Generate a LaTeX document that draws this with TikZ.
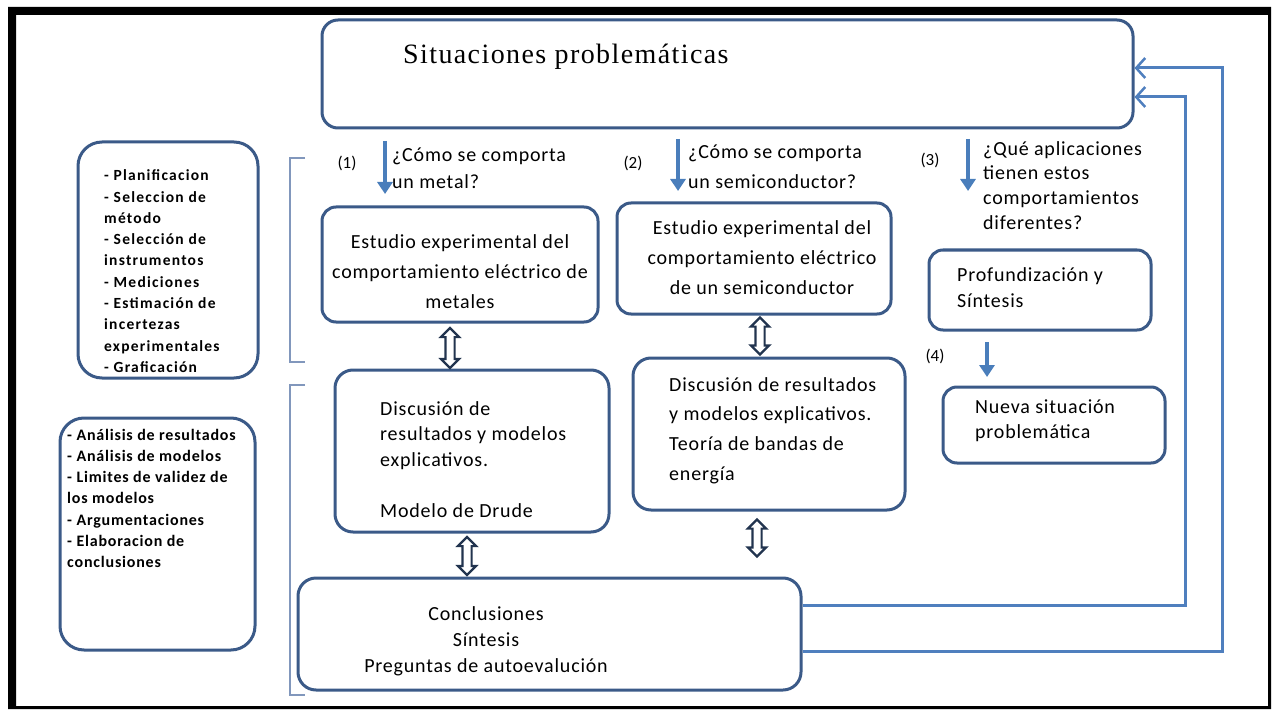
\documentclass[tikz,border=0pt]{standalone}
\usepackage{fontspec}
\setmainfont{Carlito}
\newfontfamily\qf[LetterSpace=4]{Carlito}
\newfontfamily\lfa[LetterSpace=8]{Carlito}
\newfontfamily\lfb[LetterSpace=5]{Carlito}
\newfontfamily\tf[LetterSpace=5]{Liberation Serif}
\usetikzlibrary{fit,arrows.meta,shapes.arrows}
\definecolor{boxc}{HTML}{3B5A88}
\definecolor{arrc}{HTML}{4A7EBB}
\definecolor{fbc}{HTML}{4F7FBE}
\definecolor{dblc}{HTML}{22344F}
\definecolor{brc}{HTML}{8197BC}
\newcommand{\fl}{\rule{0pt}{1em}}
\tikzset{
  box/.style={draw=boxc, line width=3pt, rounded corners=14pt, fill=white, inner sep=0pt},
  lbox/.style={box, rounded corners=24pt},
  arr/.style={draw=arrc, line width=4pt, -{Triangle[width=15pt,length=12pt]}},
  fb/.style={draw=fbc, line width=3pt, -{Straight Barb[length=9pt,width=20pt,line width=2.5pt]}},
  dbl/.style={draw=dblc, line width=2.2pt, fill=white, double arrow, shape border rotate=90,
    minimum height=38pt, inner sep=3.5pt, double arrow head extend=4.5pt},
  brk/.style={draw=brc, line width=1.5pt},
  txt/.style={inner sep=0pt, anchor=north west, align=left, font=\qf\fontsize{20}{30}\selectfont},
  ctxt/.style={txt, anchor=north, align=center},
  num/.style={inner sep=0pt, font=\fontsize{17}{20}\selectfont},
  small/.style={inner sep=0pt, anchor=north west, align=left, font=\lfa\bfseries\fontsize{15.5}{21.3}\selectfont},
}
\begin{document}
\begin{tikzpicture}[x=1pt,y=-1pt]
\useasboundingbox (0,0) rectangle (1273,711);
\fill[black, even odd rule] (8,7) rectangle (1271,709) (16,15) rectangle (1268,706);

% boxes
\node[box, rounded corners=16pt, fit={(322,20) (1133,128)}] (top) {};
\node[inner sep=0pt, anchor=west, font=\tf\fontsize{28}{30}\selectfont] (title) at (403,57) {Situaciones problemáticas};
\node[lbox, fit={(78,142) (258,378)}] (L1) {};
\node[lbox, fit={(60,418) (255,650)}] (L2) {};
\node[box, fit={(322,207) (598,322)}] (A) {};
\node[box, fit={(617,203) (891,314)}] (B) {};
\node[box, fit={(929,250) (1151,330)}] (C) {};
\node[box, fit={(943,387) (1165,463)}] (D) {};
\node[box, rounded corners=18pt, fit={(335,370) (609,532)}] (E) {};
\node[box, rounded corners=18pt, fit={(633,358) (905,510)}] (F) {};
\node[box, rounded corners=18pt, fit={(298,578) (801,690)}] (G) {};

% texts in boxes
\node[ctxt] (tA) at (460,228) {\fl Estudio experimental del\\comportamiento eléctrico de\\metales};
\node[ctxt] (tB) at (762,214) {\fl Estudio experimental del\\comportamiento eléctrico\\de un semiconductor};
\node[txt, font=\qf\fontsize{20}{26}\selectfont] (tC) at (957,261) {\fl Profundización y\\Síntesis};
\node[txt, font=\qf\fontsize{20}{25}\selectfont] (tD) at (975,393) {\fl Nueva situación\\problemática};
\node[txt, font=\qf\fontsize{20}{25.5}\selectfont] (tE) at (380,395) {\fl Discusión de\\resultados y modelos\\explicativos.\\[25.5pt]Modelo de Drude};
\node[txt, font=\qf\fontsize{20}{29.7}\selectfont] (tF) at (669,371) {\fl Discusión de resultados\\y modelos explicativos.\\Teoría de bandas de\\energía};
\node[ctxt, font=\qf\fontsize{20}{26}\selectfont] (tG) at (486,600) {\fl Conclusiones\\Síntesis\\Preguntas de autoevalución};

\node[small] (tL1) at (104,165) {\fl - Planificacion\\- Seleccion de\\método\\- Selección de\\instrumentos\\- Mediciones\\- Estimación de\\incertezas\\experimentales\\- Graficación};
\node[small, font=\lfb\bfseries\fontsize{16}{21.2}\selectfont] (tL2) at (67,424) {\fl - Análisis de resultados\\- Análisis de modelos\\- Limites de validez de\\los modelos\\- Argumentaciones\\- Elaboracion de\\conclusiones};

% questions
\node[num] (n1) at (347,163) {(1)};
\node[num] (n2) at (633,163) {(2)};
\node[num] (n3) at (930,160) {(3)};
\node[num] (n4) at (935,356) {(4)};
\node[txt, font=\qf\fontsize{20}{27}\selectfont] (q1) at (392,141) {\fl ¿Cómo se comporta\\un metal?};
\node[txt] (q2) at (688,138) {\fl ¿Cómo se comporta\\un semiconductor?};
\node[txt, font=\qf\fontsize{20}{24.7}\selectfont] (q3) at (983,135) {\fl ¿Qué aplicaciones\\tienen estos\\comportamientos\\diferentes?};

% down arrows
\coordinate (a1s) at (385,141);
\coordinate (a1e) at (385,194);
\coordinate (a2s) at (678,139);
\coordinate (a2e) at (678,191);
\coordinate (a3s) at (968,139);
\coordinate (a3e) at (968,191);
\coordinate (a4s) at (987,342);
\coordinate (a4e) at (987,377);
\draw[arr] (a1s) -- (a1e);
\draw[arr] (a2s) -- (a2e);
\draw[arr] (a3s) -- (a3e);
\draw[arr] (a4s) -- (a4e);

% double arrows
\node[dbl, minimum height=40pt] (d1) at (450,348) {};
\node[dbl, minimum height=37pt] (d2) at (760,336) {};
\node[dbl, minimum height=38pt] (d3) at (467,556) {};
\node[dbl, minimum height=37pt] (d4) at (757,538) {};

% brackets
\draw[brk] (305,158) -- (290,158) -- (290,362) -- (305,362);
\draw[brk] (305,385) -- (290,385) -- (290,695) -- (305,695);

% feedback loops
\coordinate (fy1) at (0,605);
\coordinate (fy2) at (0,651);
\coordinate (ty1) at (0,97);
\coordinate (ty2) at (0,68);
\coordinate (c1) at (1185,605);
\coordinate (c2) at (1185,97);
\coordinate (c3) at (1222,651);
\coordinate (c4) at (1222,68);
\draw[fb] (G.east |- fy1) -- (c1) -- (c2) -- (top.east |- ty1);
\draw[fb] (G.east |- fy2) -- (c3) -- (c4) -- (top.east |- ty2);
\end{tikzpicture}
\end{document}
